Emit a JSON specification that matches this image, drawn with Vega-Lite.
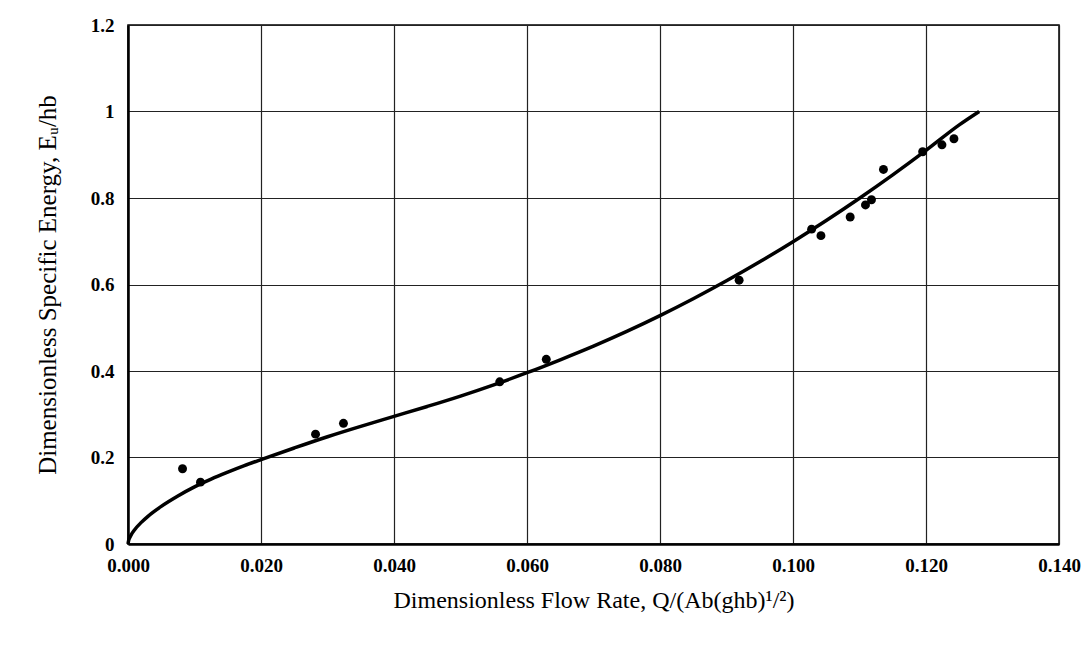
{
  "$schema": "https://vega.github.io/schema/vega-lite/v6.json",
  "width": 931,
  "height": 519,
  "autosize": {"type": "none"},
  "padding": {"left": 128, "top": 25, "right": 32, "bottom": 107},
  "background": "white",
  "config": {
    "view": {"stroke": "black", "strokeWidth": 1.5},
    "font": "Liberation Serif",
    "axis": {
      "labelFont": "Liberation Serif",
      "labelFontWeight": "bold",
      "labelFontSize": 19,
      "labelColor": "black",
      "labelFlush": false,
      "titleFont": "Liberation Serif",
      "titleFontWeight": "normal",
      "titleColor": "black",
      "domainColor": "black",
      "domainWidth": 2.5,
      "gridColor": "#222222",
      "gridWidth": 1.2,
      "gridOpacity": 1,
      "tickSize": 0
    }
  },
  "datasets": {
    "obs": [
      {"q": 0.0082, "e": 0.174},
      {"q": 0.0109, "e": 0.143},
      {"q": 0.0282, "e": 0.254},
      {"q": 0.0324, "e": 0.279},
      {"q": 0.0559, "e": 0.375},
      {"q": 0.0629, "e": 0.427},
      {"q": 0.0919, "e": 0.610},
      {"q": 0.1028, "e": 0.728},
      {"q": 0.1042, "e": 0.713},
      {"q": 0.1086, "e": 0.756},
      {"q": 0.1109, "e": 0.784},
      {"q": 0.1118, "e": 0.796},
      {"q": 0.1136, "e": 0.866},
      {"q": 0.1195, "e": 0.907},
      {"q": 0.1224, "e": 0.923},
      {"q": 0.1242, "e": 0.937}
    ],
    "fit": [
      {"q": 0.0, "e": 0.0},
      {"q": 0.0001, "e": 0.0083},
      {"q": 0.00025, "e": 0.0145},
      {"q": 0.0005, "e": 0.0219},
      {"q": 0.001, "e": 0.0331},
      {"q": 0.002, "e": 0.050},
      {"q": 0.003, "e": 0.064},
      {"q": 0.005, "e": 0.087},
      {"q": 0.0075, "e": 0.111},
      {"q": 0.01, "e": 0.132},
      {"q": 0.0125, "e": 0.150},
      {"q": 0.015, "e": 0.166},
      {"q": 0.0175, "e": 0.181},
      {"q": 0.02, "e": 0.195},
      {"q": 0.025, "e": 0.222},
      {"q": 0.03, "e": 0.248},
      {"q": 0.035, "e": 0.272},
      {"q": 0.04, "e": 0.295},
      {"q": 0.045, "e": 0.318},
      {"q": 0.05, "e": 0.342},
      {"q": 0.055, "e": 0.368},
      {"q": 0.06, "e": 0.396},
      {"q": 0.065, "e": 0.426},
      {"q": 0.07, "e": 0.4575},
      {"q": 0.075, "e": 0.4915},
      {"q": 0.08, "e": 0.528},
      {"q": 0.085, "e": 0.567},
      {"q": 0.09, "e": 0.6085},
      {"q": 0.095, "e": 0.6525},
      {"q": 0.1, "e": 0.699},
      {"q": 0.105, "e": 0.748},
      {"q": 0.11, "e": 0.7995},
      {"q": 0.115, "e": 0.8535},
      {"q": 0.12, "e": 0.910},
      {"q": 0.125, "e": 0.969},
      {"q": 0.128, "e": 1.0}
    ]
  },
  "layer": [
    {
      "data": {"name": "fit"},
      "mark": {"type": "line", "color": "black", "strokeWidth": 3.5, "interpolate": "monotone"},
      "encoding": {
        "x": {
          "field": "q", "type": "quantitative",
          "scale": {"domain": [0, 0.14], "nice": false},
          "axis": {"values": [0, 0.02, 0.04, 0.06, 0.08, 0.1, 0.12, 0.14], "format": ".3f", "labelPadding": 12, "title": "Dimensionless Flow Rate, Q/(Ab(ghb)¹/²)", "titleFontSize": 24, "titlePadding": 13}
        },
        "y": {
          "field": "e", "type": "quantitative",
          "scale": {"domain": [0, 1.2], "nice": false},
          "axis": {"values": [0, 0.2, 0.4, 0.6, 0.8, 1, 1.2], "format": ".1~f", "labelPadding": 14, "title": "Dimensionless Specific Energy, Eᵤ/hb", "titleFontSize": 25, "titlePadding": 30}
        }
      }
    },
    {
      "data": {"name": "obs"},
      "mark": {"type": "circle", "color": "black", "opacity": 1, "size": 80},
      "encoding": {
        "x": {"field": "q", "type": "quantitative"},
        "y": {"field": "e", "type": "quantitative"}
      }
    }
  ]
}
